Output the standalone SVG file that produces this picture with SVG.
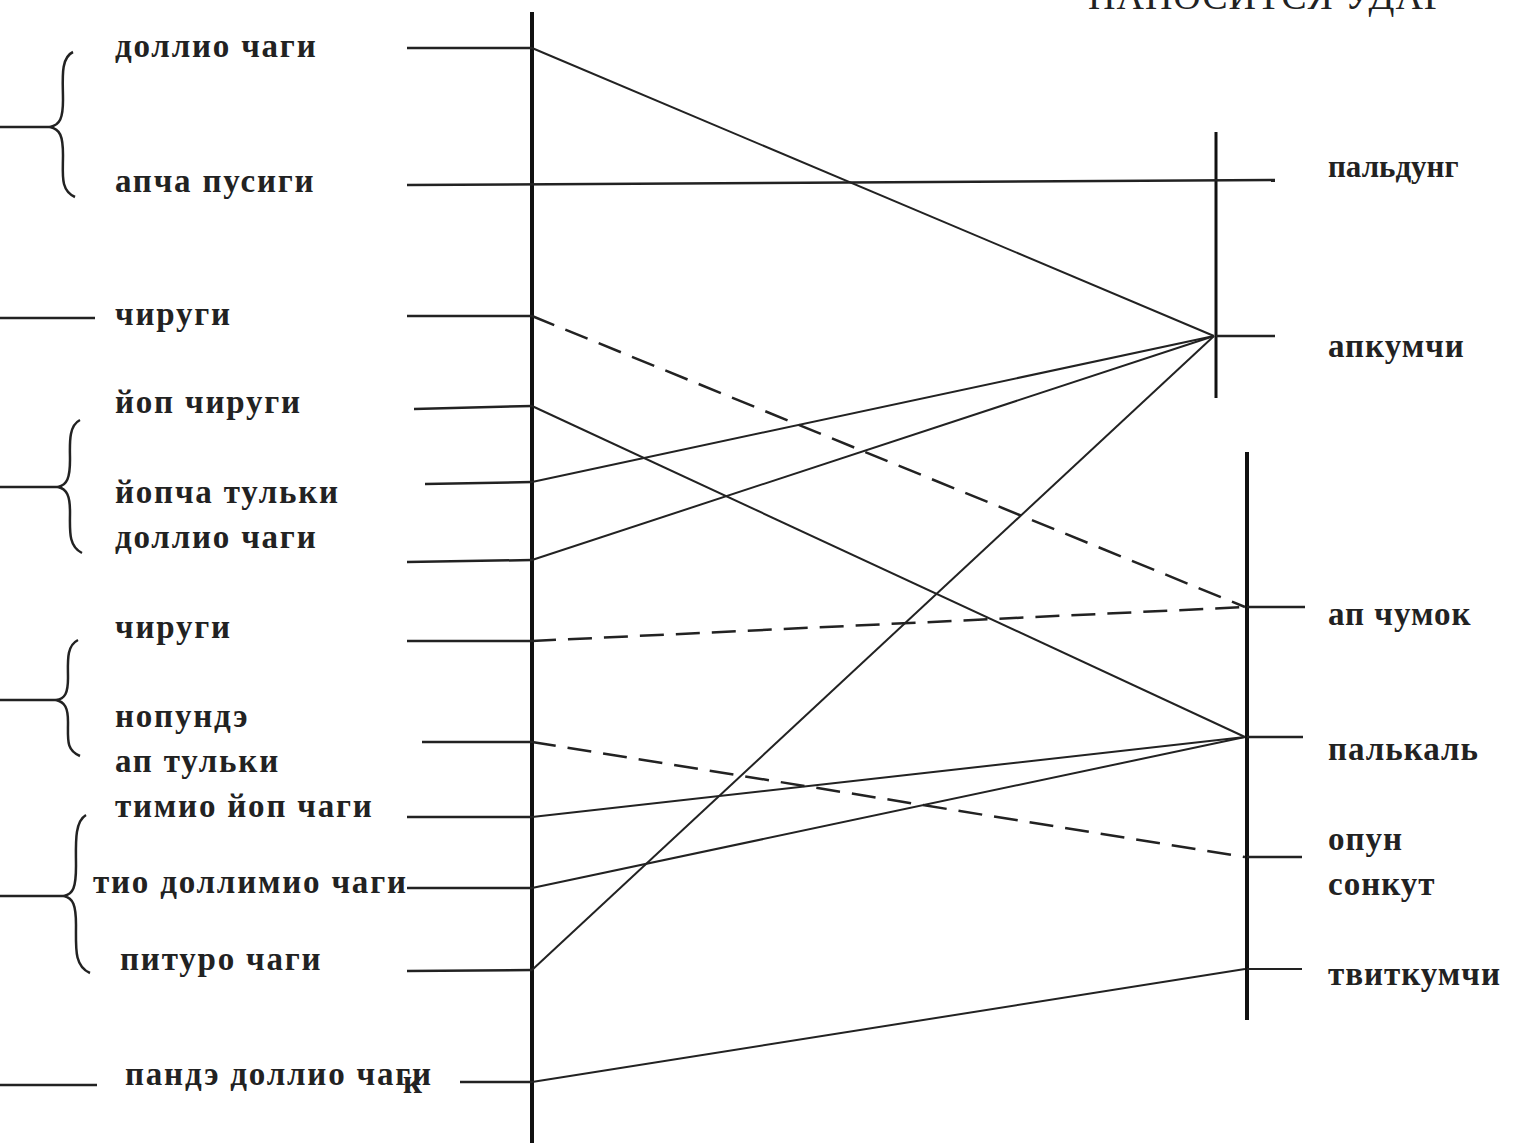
<svg xmlns="http://www.w3.org/2000/svg" width="1513" height="1143" viewBox="0 0 1513 1143">
<style>
.t{font-family:"Liberation Serif","Times New Roman",serif;font-size:33px;font-weight:bold;fill:#222;letter-spacing:1.8px}
.r{letter-spacing:1px}
.ttl{font-family:"Liberation Serif","Times New Roman",serif;font-size:38px;fill:#222;letter-spacing:1px}
.ax{stroke:#111;stroke-width:4;fill:none}
.ax2{stroke:#111;stroke-width:3;fill:none}
.st{stroke:#222;stroke-width:2.5;fill:none}
.c{stroke:#222;stroke-width:2;fill:none}
.d{stroke:#222;stroke-width:2.5;fill:none;stroke-dasharray:24 12}
.br{stroke:#222;stroke-width:2.5;fill:none}
</style>
<rect width="1513" height="1143" fill="#fff"/>
<text class="ttl" x="1088" y="9">НАНОСИТСЯ УДАР</text>
<g id="axes">
<line class="ax" x1="532" y1="12" x2="532" y2="1143"/>
<line class="ax2" x1="1216" y1="132" x2="1216" y2="398"/>
<line class="ax" x1="1247" y1="452" x2="1247" y2="1020"/>
</g>
<g id="braces">
<path class="br" d="M73,52 C60,58 63,80 63,100 C63,118 60,125 50,127 C60,129 63,136 63,155 C63,175 60,190 75,197"/>
<line class="st" x1="0" y1="127" x2="50" y2="127"/>
<line class="st" x1="0" y1="318" x2="95" y2="318"/>
<path class="br" d="M80,420 C68,426 70,445 70,460 C70,478 67,485 58,487 C67,489 70,496 70,512 C70,530 68,546 82,553"/>
<line class="st" x1="0" y1="487" x2="58" y2="487"/>
<path class="br" d="M78,640 C66,646 68,662 68,678 C68,693 65,699 56,700 C65,702 68,708 68,722 C68,740 66,750 80,756"/>
<line class="st" x1="0" y1="700" x2="56" y2="700"/>
<path class="br" d="M86,815 C74,822 76,845 76,866 C76,888 73,894 64,896 C73,898 76,905 76,925 C76,948 74,966 90,973"/>
<line class="st" x1="0" y1="896" x2="64" y2="896"/>
<line class="st" x1="0" y1="1085" x2="97" y2="1085"/>
</g>
<g id="left-nodes">
<g id="n1"><text class="t" x="115" y="57">доллио чаги</text><line class="st" x1="407" y1="48" x2="532" y2="48"/></g>
<g id="n2"><text class="t" x="115" y="192">апча пусиги</text></g>
<g id="n3"><text class="t" x="115" y="325">чируги</text><line class="st" x1="407" y1="316" x2="532" y2="316"/></g>
<g id="n4"><text class="t" x="115" y="413">йоп чируги</text><line class="st" x1="414" y1="409" x2="532" y2="406"/></g>
<g id="n5"><text class="t" x="115" y="503">йопча тульки</text><line class="st" x1="425" y1="484" x2="532" y2="482"/></g>
<g id="n6"><text class="t" x="115" y="548">доллио чаги</text><line class="st" x1="407" y1="562" x2="532" y2="560"/></g>
<g id="n7"><text class="t" x="115" y="638">чируги</text><line class="st" x1="407" y1="641" x2="532" y2="641"/></g>
<g id="n8"><text class="t" x="115" y="727">нопундэ</text><text class="t" x="115" y="772">ап тульки</text><line class="st" x1="422" y1="742" x2="532" y2="742"/></g>
<g id="n9"><text class="t" x="115" y="817">тимио йоп чаги</text><line class="st" x1="407" y1="817" x2="532" y2="817"/></g>
<g id="n10"><text class="t" x="93" y="893">тио доллимио чаги</text><line class="st" x1="407" y1="888" x2="532" y2="888"/></g>
<g id="n11"><text class="t" x="120" y="970">питуро чаги</text><line class="st" x1="407" y1="971" x2="532" y2="970"/></g>
<g id="n12"><text class="t" x="125" y="1085">пандэ доллио чаги</text><text class="t" x="403" y="1093">к</text><line class="st" x1="460" y1="1082" x2="532" y2="1082"/></g>
</g>
<g id="right-nodes">
<g id="r1"><text class="t" x="1328" y="177" style="font-size:31px;letter-spacing:0">пальдунг</text></g>
<g id="r2"><text class="t r" x="1328" y="357">апкумчи</text><line class="st" x1="1216" y1="336" x2="1275" y2="336"/></g>
<g id="r3"><text class="t r" x="1328" y="625">ап чумок</text><line class="st" x1="1247" y1="607" x2="1305" y2="607"/></g>
<g id="r4"><text class="t r" x="1328" y="760">палькаль</text><line class="st" x1="1247" y1="737" x2="1303" y2="737"/></g>
<g id="r5"><text class="t r" x="1328" y="850">опун</text><text class="t r" x="1328" y="895">сонкут</text><line class="st" x1="1247" y1="857" x2="1302" y2="857"/></g>
<g id="r6"><text class="t r" x="1328" y="985">твиткумчи</text><line class="c" x1="1247" y1="969" x2="1302" y2="969"/></g>
</g>
<g id="connectors">
<line class="st" x1="407" y1="185" x2="1275" y2="180"/>
<line class="c" x1="532" y1="48" x2="1214" y2="336"/>
<line class="d" x1="532" y1="316" x2="1245" y2="607"/>
<line class="c" x1="532" y1="406" x2="1245" y2="737"/>
<line class="c" x1="532" y1="482" x2="1214" y2="336"/>
<line class="c" x1="532" y1="560" x2="1214" y2="336"/>
<line class="d" x1="532" y1="641" x2="1245" y2="607"/>
<line class="d" x1="532" y1="742" x2="1245" y2="857"/>
<line class="c" x1="532" y1="817" x2="1245" y2="737"/>
<line class="c" x1="532" y1="888" x2="1245" y2="737"/>
<line class="c" x1="532" y1="970" x2="1214" y2="336"/>
<line class="c" x1="532" y1="1082" x2="1245" y2="969"/>
</g>
</svg>
